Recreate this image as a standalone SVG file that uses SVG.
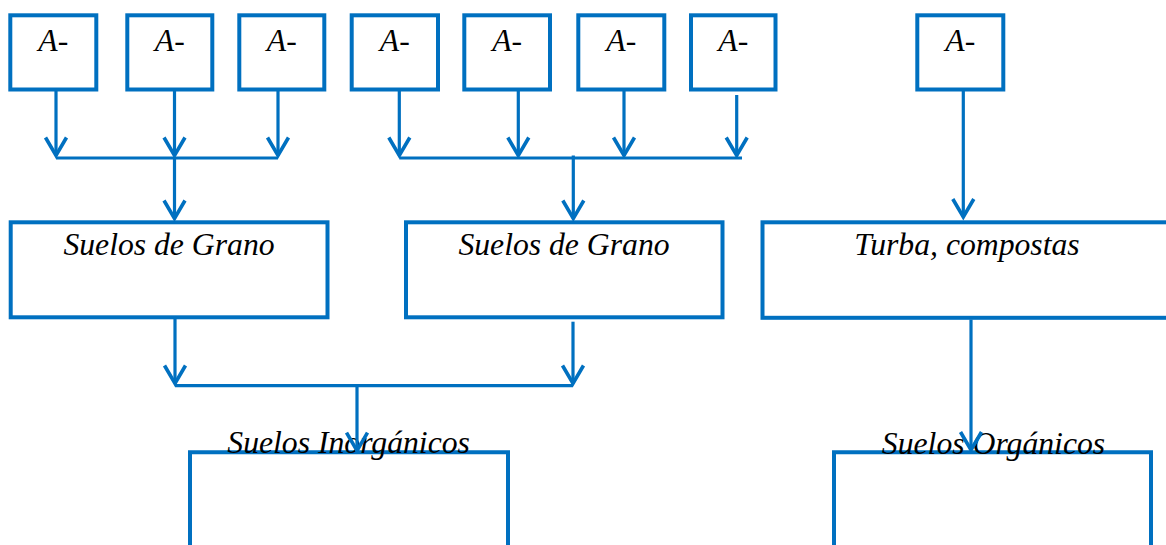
<svg xmlns="http://www.w3.org/2000/svg" width="1166" height="545" viewBox="0 0 1166 545">
<style>
.box{fill:#FFFFFF;stroke:#0070C0;stroke-width:4}
.open{fill:none;stroke:#0070C0;stroke-width:4}
.lbl{font-family:"Liberation Serif","Times New Roman",serif;font-style:italic;font-size:31.7px;fill:#000000;text-anchor:middle}
.con{fill:none;stroke:#0070C0;stroke-width:3.2}
.arr{marker-end:url(#ah)}
</style>
<defs>
<marker id="ah" markerUnits="userSpaceOnUse" orient="auto" refX="0" refY="0" markerWidth="30" markerHeight="30" overflow="visible">
<path d="M-18,-10.5 L0,0 L-18,10.5" fill="none" stroke="#0070C0" stroke-width="3.6" stroke-linejoin="miter"/>
</marker>
</defs>
<rect width="1166" height="545" fill="#FFFFFF"/>
<g id="a1"><rect class="box" x="10.3" y="15.3" width="86" height="74.2"/><text class="lbl" x="53.3" y="51">A-</text></g>
<g id="a2"><rect class="box" x="127.3" y="15.3" width="85" height="74.2"/><text class="lbl" x="169.8" y="51">A-</text></g>
<g id="a3"><rect class="box" x="239.3" y="15.3" width="85" height="74.2"/><text class="lbl" x="281.8" y="51">A-</text></g>
<g id="a4"><rect class="box" x="351.7" y="15.3" width="86.3" height="74.2"/><text class="lbl" x="394.8" y="51">A-</text></g>
<g id="a5"><rect class="box" x="464.3" y="15.3" width="85.7" height="74.2"/><text class="lbl" x="507.2" y="51">A-</text></g>
<g id="a6"><rect class="box" x="578.3" y="15.3" width="86" height="74.2"/><text class="lbl" x="621.3" y="51">A-</text></g>
<g id="a7"><rect class="box" x="691" y="15.3" width="84.5" height="74.2"/><text class="lbl" x="733.3" y="51">A-</text></g>
<g id="a8"><rect class="box" x="917.3" y="15.3" width="86" height="74.2"/><text class="lbl" x="960.3" y="51">A-</text></g>
<g id="grano1"><rect class="box" x="10.7" y="222.3" width="316.8" height="95"/><text class="lbl" x="169" y="255">Suelos de Grano</text></g>
<g id="grano2"><rect class="box" x="406" y="222.3" width="316.5" height="95"/><text class="lbl" x="564" y="255">Suelos de Grano</text></g>
<g id="turba"><rect class="box" x="762.5" y="222.3" width="420" height="95.5"/><text class="lbl" x="967" y="255">Turba, compostas</text></g>
<g id="inorg"><path class="open" d="M190,560 V452.3 H508 V560"/><text class="lbl" x="348.6" y="453">Suelos Inorgánicos</text></g>
<g id="org"><path class="open" d="M834,560 V452.3 H1151 V560"/><text class="lbl" x="993.5" y="454">Suelos Orgánicos</text></g>
<g id="connectors">
<line class="con arr" x1="56" y1="91" x2="56" y2="155.5"/>
<line class="con arr" x1="174.5" y1="91" x2="174.5" y2="155.5"/>
<line class="con arr" x1="278" y1="91" x2="278" y2="155.5"/>
<line class="con" x1="56" y1="158" x2="278" y2="158"/>
<line class="con arr" x1="174.5" y1="158" x2="174.5" y2="218.5"/>
<line class="con arr" x1="399.3" y1="91" x2="399.3" y2="155.5"/>
<line class="con arr" x1="518.3" y1="91" x2="518.3" y2="155.5"/>
<line class="con arr" x1="624" y1="91" x2="624" y2="155.5"/>
<line class="con arr" x1="736.7" y1="95" x2="736.7" y2="155.5"/>
<line class="con" x1="399.3" y1="158" x2="742" y2="158"/>
<line class="con arr" x1="573.3" y1="155.5" x2="573.3" y2="218.5"/>
<line class="con arr" x1="963.3" y1="91" x2="963.3" y2="217"/>
<line class="con arr" x1="175" y1="319" x2="175" y2="383.5"/>
<line class="con arr" x1="573" y1="321.7" x2="573" y2="383.5"/>
<line class="con" x1="175" y1="385.7" x2="573" y2="385.7"/>
<line class="con arr" x1="357" y1="385.7" x2="357" y2="450.7"/>
<line class="con arr" x1="971" y1="319.5" x2="971" y2="450"/>
</g>
</svg>
